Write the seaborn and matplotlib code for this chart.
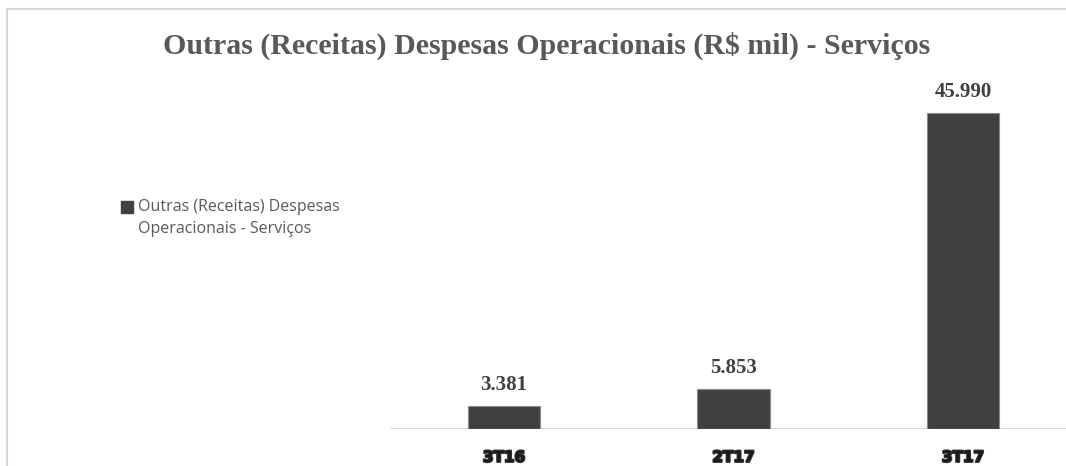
import matplotlib
matplotlib.use("Agg")
import matplotlib.pyplot as plt
import matplotlib.patheffects as pe
from matplotlib.patches import Patch, Rectangle
from matplotlib.legend_handler import HandlerPatch
import pandas as pd
import seaborn as sns

# Data
periods = ["3T16", "2T17", "3T17"]
values = [3381, 5853, 45990]
value_labels = ["3.381", "5.853", "45.990"]
series_name = "Outras (Receitas) Despesas\nOperacionais - Serviços"
title = "Outras (Receitas) Despesas Operacionais (R$ mil) - Serviços"

df = pd.DataFrame({"periodo": periods, "valor": values})

sns.set_theme(style="white")
W, H = 1066, 466
fig = plt.figure(figsize=(W / 100, H / 100), dpi=100)
fig.patch.set_facecolor("white")

# light chart-area frame (left and top edges)
fig.patches.append(Rectangle((7 / W, -0.1), 1.2, 1.1 - 9 / H,
                             transform=fig.transFigure, fill=False,
                             edgecolor="#d9d9d9", linewidth=1.5, zorder=0))

left, right, bottom, top = 390, 1066, 429, 90
ax = fig.add_axes([left / W, 1 - bottom / H, (right - left) / W, (bottom - top) / H])
ax.set_facecolor("none")

sns.barplot(data=df, x="periodo", y="valor", color="#404040", width=0.314,
            edgecolor="#8c8c8c", linewidth=0.8, saturation=1, ax=ax)

ax.set_xlim(-0.497, 2.449)
ax.set_ylim(0, 49340)
for s in ax.spines.values():
    s.set_visible(False)
ax.axhline(0, color="#d9d9d9", linewidth=1.5, zorder=0)
ax.set_yticks([])
ax.set_xlabel("")
ax.set_ylabel("")
ax.tick_params(axis="x", length=0, pad=15)
for lbl in ax.get_xticklabels():
    lbl.set_fontfamily("DejaVu Sans")
    lbl.set_fontweight("bold")
    lbl.set_fontsize(11)
    lbl.set_color("#1a1a1a")
    lbl.set_path_effects([pe.withStroke(linewidth=1.6, foreground="#333333")])

for i, (v, t) in enumerate(zip(values, value_labels)):
    ax.annotate(t, (i, v), xytext=(0, 8), textcoords="offset points",
                ha="center", va="bottom", fontsize=15, fontweight="bold",
                family="Liberation Serif", color="#404040")

fig.text(547 / W, 1 - 46 / H, title, ha="center", va="center",
         fontsize=21.5, fontweight="bold", family="Liberation Serif",
         color="#595959")


# legend key sits level with the first text line
def top_aligned_square(legend, orig_handle, xdescent, ydescent,
                       width, height, fontsize):
    return Rectangle((-xdescent, -ydescent + 0.7 * fontsize), width, height)


handle = Patch(facecolor="#404040", edgecolor="#404040")
leg = fig.legend([handle], [series_name], loc="center left",
                 bbox_to_anchor=(121 / W, 1 - 218 / H), frameon=False,
                 prop={"family": "Open Sans", "size": 11.5}, labelcolor="#595959",
                 handlelength=0.75, handleheight=0.75, handletextpad=0.3,
                 borderpad=0, borderaxespad=0,
                 handler_map={Patch: HandlerPatch(patch_func=top_aligned_square)})
for txt in leg.get_texts():
    txt.set_linespacing(1.45)

fig.savefig("out.png", dpi=100, facecolor="white")
